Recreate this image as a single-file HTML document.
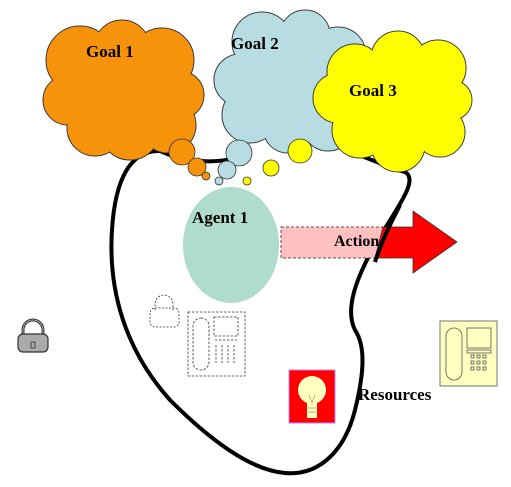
<!DOCTYPE html>
<html><head><style>body{margin:0;background:#fff}svg{display:block}</style></head><body>
<svg width="511" height="487" viewBox="0 0 511 487" xmlns="http://www.w3.org/2000/svg" font-family="Liberation Serif, serif" font-weight="bold">
<rect width="511" height="487" fill="#fff"/>
<path d="M160,151 C130,150 115,180 112,230 C108,290 125,350 170,400 C210,440 250,470 285,473 C320,476 345,450 355,410 C365,370 365,345 355,330 C345,310 355,280 375,245 C395,210 420,180 405,172 C380,165 350,150 320,140" fill="none" stroke="#000" stroke-width="4"/>
<path d="M160,151 C180,160 210,165 235,158" fill="none" stroke="#000" stroke-width="4"/>
<g fill="#f7930a" stroke="#333" stroke-width="1">
<circle cx="80" cy="60" r="34"/><circle cx="122" cy="48" r="28"/><circle cx="162" cy="60" r="32"/><circle cx="180" cy="95" r="24"/><circle cx="168" cy="125" r="28"/><circle cx="130" cy="130" r="30"/><circle cx="95" cy="128" r="28"/><circle cx="68" cy="100" r="25"/>
</g>
<g fill="#f7930a" stroke="none"><circle cx="80" cy="60" r="33.5"/><circle cx="122" cy="48" r="27.5"/><circle cx="162" cy="60" r="31.5"/><circle cx="180" cy="95" r="23.5"/><circle cx="168" cy="125" r="27.5"/><circle cx="130" cy="130" r="29.5"/><circle cx="95" cy="128" r="27.5"/><circle cx="68" cy="100" r="24.5"/><circle cx="120" cy="90" r="45"/></g>
<g fill="#b7dde2" stroke="#333" stroke-width="1"><circle cx="262" cy="42" r="30"/><circle cx="305" cy="35" r="25"/><circle cx="338" cy="55" r="28"/><circle cx="345" cy="95" r="24"/><circle cx="328" cy="125" r="26"/><circle cx="288" cy="128" r="25"/><circle cx="250" cy="115" r="28"/><circle cx="240" cy="80" r="26"/></g>
<g fill="#b7dde2"><circle cx="262" cy="42" r="29.5"/><circle cx="305" cy="35" r="24.5"/><circle cx="338" cy="55" r="27.5"/><circle cx="345" cy="95" r="23.5"/><circle cx="328" cy="125" r="25.5"/><circle cx="288" cy="128" r="24.5"/><circle cx="250" cy="115" r="27.5"/><circle cx="240" cy="80" r="25.5"/><circle cx="292" cy="82" r="45"/></g>
<g fill="#ffff00" stroke="#333" stroke-width="1"><circle cx="355" cy="72" r="28"/><circle cx="398" cy="58" r="27"/><circle cx="438" cy="68" r="28"/><circle cx="452" cy="100" r="20"/><circle cx="440" cy="132" r="25"/><circle cx="398" cy="145" r="27"/><circle cx="360" cy="130" r="28"/><circle cx="338" cy="98" r="25"/></g>
<g fill="#ffff00"><circle cx="355" cy="72" r="27.5"/><circle cx="398" cy="58" r="26.5"/><circle cx="438" cy="68" r="27.5"/><circle cx="452" cy="100" r="19.5"/><circle cx="440" cy="132" r="24.5"/><circle cx="398" cy="145" r="26.5"/><circle cx="360" cy="130" r="27.5"/><circle cx="338" cy="98" r="24.5"/><circle cx="395" cy="100" r="45"/></g>
<g stroke="#333" stroke-width="0.8">
<circle cx="182" cy="152" r="13" fill="#f7930a"/><circle cx="197" cy="167" r="9" fill="#f7930a"/><circle cx="206" cy="176" r="4" fill="#f7930a"/>
<circle cx="239" cy="153" r="13" fill="#b7dde2"/><circle cx="227" cy="170" r="9" fill="#b7dde2"/><circle cx="219" cy="181" r="4" fill="#b7dde2"/>
<circle cx="300" cy="151" r="12" fill="#ffff00"/><circle cx="271" cy="168" r="8" fill="#ffff00"/><circle cx="247" cy="181" r="4" fill="#ffff00"/>
</g>
<text x="86" y="57" font-size="17">Goal 1</text>
<text x="231" y="49" font-size="17">Goal 2</text>
<text x="349" y="96" font-size="17">Goal 3</text>
<ellipse cx="231" cy="245" rx="48" ry="58" fill="#b0dccc"/>
<text x="192" y="223" font-size="17">Agent 1</text>
<rect x="281" y="227" width="112" height="31" fill="#ffc0c0" stroke="#555" stroke-dasharray="3,2"/>
<path d="M383,227 L413,227 L413,211 L457,242 L413,273 L413,258 L375,258 Z" fill="#f00" stroke="#333" stroke-width="0.8"/>
<path d="M375,262 C382,240 390,225 400,205" fill="none" stroke="#000" stroke-width="4"/>
<text x="334" y="246" font-size="16">Action</text>
<g stroke="#333" stroke-width="1.2"><path d="M23,336 v-6 a10,10 0 0 1 20,0 v6" fill="none" stroke-width="3"/><path d="M23,336 v-6 a10,10 0 0 1 20,0 v6" fill="none" stroke="#aaa" stroke-width="1"/><rect x="18" y="334" width="30" height="18" rx="5" fill="#aaa"/><rect x="31" y="342" width="4" height="6" fill="none" stroke-width="0.8"/></g>
<g stroke="#333" stroke-width="0.8" fill="none" stroke-dasharray="2,1.5"><path d="M155,310 v-6 a9,9 0 0 1 18,0 v6"/><rect x="150" y="308" width="29" height="19" rx="5"/></g>
<g stroke="#333" stroke-width="0.8" fill="none" stroke-dasharray="2.5,1.5"><rect x="188" y="312" width="57" height="64"/><rect x="214" y="317" width="24" height="19"/><rect x="193" y="318" width="16" height="52" rx="8"/><path d="M215,340h22M216,345v18M222,345v18M228,345v18M234,345v18"/></g>
<g stroke="#555" stroke-width="0.8"><rect x="440" y="321" width="57" height="65" fill="#ffffc0"/><rect x="446" y="328" width="16" height="52" rx="8" fill="none"/><rect x="467" y="328" width="24" height="20" fill="none"/><rect x="467" y="350" width="24" height="3" fill="none"/><g fill="none"><rect x="471" y="355" width="3" height="3"/><rect x="477" y="355" width="3" height="3"/><rect x="483" y="355" width="3" height="3"/><rect x="471" y="361" width="3" height="3"/><rect x="477" y="361" width="3" height="3"/><rect x="483" y="361" width="3" height="3"/><rect x="471" y="367" width="3" height="3"/><rect x="477" y="367" width="3" height="3"/><rect x="483" y="367" width="3" height="3"/></g></g>
<rect x="289" y="370" width="46" height="53" fill="#f00" stroke="#b080ff"/>
<circle cx="312" cy="390" r="14" fill="#ffffc0"/><rect x="307" y="398" width="10" height="20" fill="#ffffc0"/>
<path d="M309,395 l3,8 l3,-8 M308,408 h8 M308,412 h8" stroke="#996" stroke-width="0.7" fill="none"/>
<text x="358" y="400" font-size="17">Resources</text>
</svg>
</body></html>
